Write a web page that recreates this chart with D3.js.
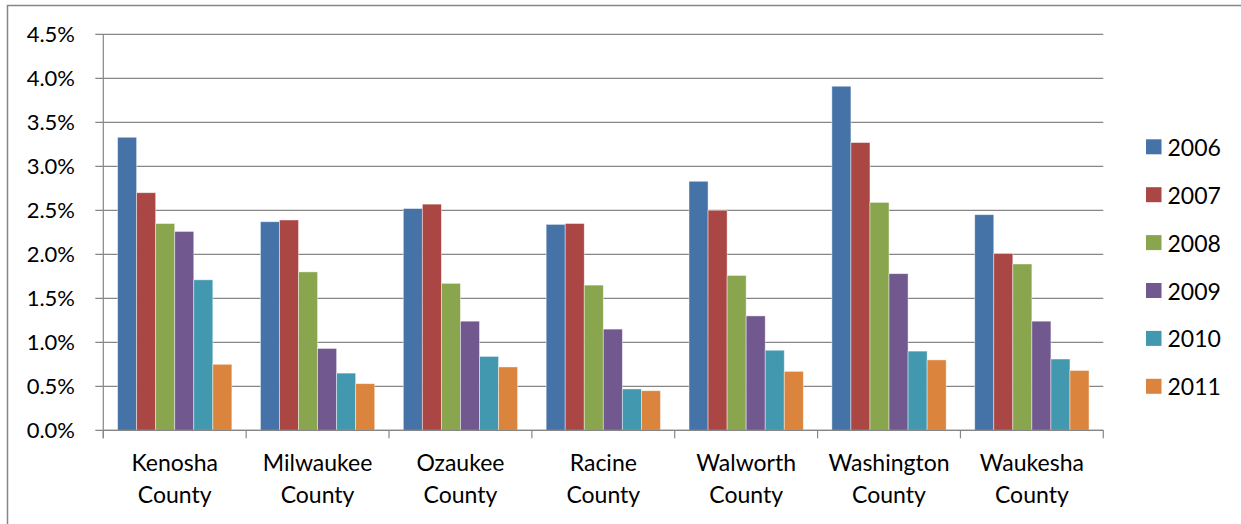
<!DOCTYPE html>
<html>
<head>
<meta charset="utf-8">
<script src="https://cdn.jsdelivr.net/npm/d3@7"></script>
<style>
  html, body { margin: 0; padding: 0; background: #fff; }
  svg { display: block; }
  text { font-family: Lato, "Liberation Sans", Arial, sans-serif; fill: #000; }
</style>
</head>
<body>
<svg id="chart" width="1241" height="524"></svg>
<script>
// Counties along the x axis (two-line labels)
const categories = [
  ["Kenosha", "County"],
  ["Milwaukee", "County"],
  ["Ozaukee", "County"],
  ["Racine", "County"],
  ["Walworth", "County"],
  ["Washington", "County"],
  ["Waukesha", "County"]
];

// Series: one array of percentages per year, in county order
const years = ["2006", "2007", "2008", "2009", "2010", "2011"];
const v2006 = [3.33, 2.37, 2.52, 2.34, 2.83, 3.91, 2.45];
const v2007 = [2.70, 2.39, 2.57, 2.35, 2.50, 3.27, 2.01];
const v2008 = [2.35, 1.80, 1.67, 1.65, 1.76, 2.59, 1.89];
const v2009 = [2.26, 0.93, 1.24, 1.15, 1.30, 1.78, 1.24];
const v2010 = [1.71, 0.65, 0.84, 0.47, 0.91, 0.90, 0.81];
const v2011 = [0.75, 0.53, 0.72, 0.45, 0.67, 0.80, 0.68];
const seriesValues = [v2006, v2007, v2008, v2009, v2010, v2011];
const colors = ["#4572A7", "#AA4643", "#89A54E", "#71588F", "#4198AF", "#DB843D"];

// Y axis ticks
const yTicks = [0, 0.5, 1.0, 1.5, 2.0, 2.5, 3.0, 3.5, 4.0, 4.5];

const svg = d3.select("#chart");
const plot = { left: 103.3, right: 1103.3, top: 34.3, bottom: 430.3 };
const gridColor = "#868686";

// Outer chart frame (left and top edges visible)
svg.append("path")
  .attr("d", "M7.5,524 L7.5,5.5 L1241,5.5")
  .attr("fill", "none")
  .attr("stroke", gridColor)
  .attr("stroke-width", 1.5);

const catNames = categories.map(c => c.join(" "));
const x0 = d3.scaleBand().domain(catNames).range([plot.left, plot.right]).padding(0);
const cw = x0.bandwidth();
const x1 = d3.scaleBand().domain(years).range([cw * 0.1, cw * 0.9]).padding(0);
const y = d3.scaleLinear().domain([0, 4.5]).range([plot.bottom, plot.top]);

// Horizontal gridlines with outside tick marks
svg.append("g").selectAll("line").data(yTicks).join("line")
  .attr("x1", plot.left - 8).attr("x2", plot.right)
  .attr("y1", d => y(d)).attr("y2", d => y(d))
  .attr("stroke", gridColor).attr("stroke-width", 1.2);

// Y tick labels
svg.append("g").selectAll("text").data(yTicks).join("text")
  .attr("x", 75).attr("y", d => y(d) - 1)
  .attr("text-anchor", "end")
  .attr("dominant-baseline", "central")
  .style("font-size", "22px")
  .text(d => d3.format(".1f")(d) + "%");

// Bars
const groups = svg.append("g").selectAll("g").data(catNames).join("g")
  .attr("transform", d => `translate(${x0(d)},0)`);
groups.selectAll("rect")
  .data((d, i) => years.map((yr, s) => ({ yr, s, v: seriesValues[s][i] })))
  .join("rect")
  .attr("x", d => x1(d.yr))
  .attr("width", x1.bandwidth())
  .attr("y", d => y(d.v))
  .attr("height", d => y(0) - y(d.v))
  .attr("fill", d => colors[d.s])
  .attr("stroke", "rgba(255,255,255,0.55)")
  .attr("stroke-width", 0.8);

// Axis lines
svg.append("line")
  .attr("x1", plot.left).attr("x2", plot.left)
  .attr("y1", plot.top).attr("y2", plot.bottom + 8)
  .attr("stroke", gridColor).attr("stroke-width", 1.2);
svg.append("line")
  .attr("x1", plot.left).attr("x2", plot.right)
  .attr("y1", plot.bottom).attr("y2", plot.bottom)
  .attr("stroke", gridColor).attr("stroke-width", 1.2);

// Category boundary ticks below the x axis
const boundaries = catNames.map(c => x0(c)).concat([plot.right]);
svg.append("g").selectAll("line").data(boundaries).join("line")
  .attr("x1", d => d).attr("x2", d => d)
  .attr("y1", plot.bottom).attr("y2", plot.bottom + 8)
  .attr("stroke", gridColor).attr("stroke-width", 1.2);

// Category labels
const labels = svg.append("g").selectAll("text").data(categories).join("text")
  .attr("x", (d, i) => x0(catNames[i]) + cw / 2)
  .attr("y", 471)
  .attr("text-anchor", "middle")
  .style("font-size", "23px");
labels.selectAll("tspan").data(d => d).join("tspan")
  .attr("x", function () { return this.parentNode.getAttribute("x"); })
  .attr("dy", (d, i) => i === 0 ? 0 : 31.6)
  .text(d => d);

// Legend
const legend = svg.append("g").selectAll("g").data(years).join("g")
  .attr("transform", (d, i) => `translate(1146,${146.8 + i * 47.9})`);
legend.append("rect")
  .attr("x", 0).attr("y", -7.5).attr("width", 15.5).attr("height", 15)
  .attr("fill", (d, i) => colors[i]);
legend.append("text")
  .attr("x", 21.5).attr("y", 0)
  .attr("dominant-baseline", "central")
  .style("font-size", "23px")
  .text(d => d);
</script>
</body>
</html>
